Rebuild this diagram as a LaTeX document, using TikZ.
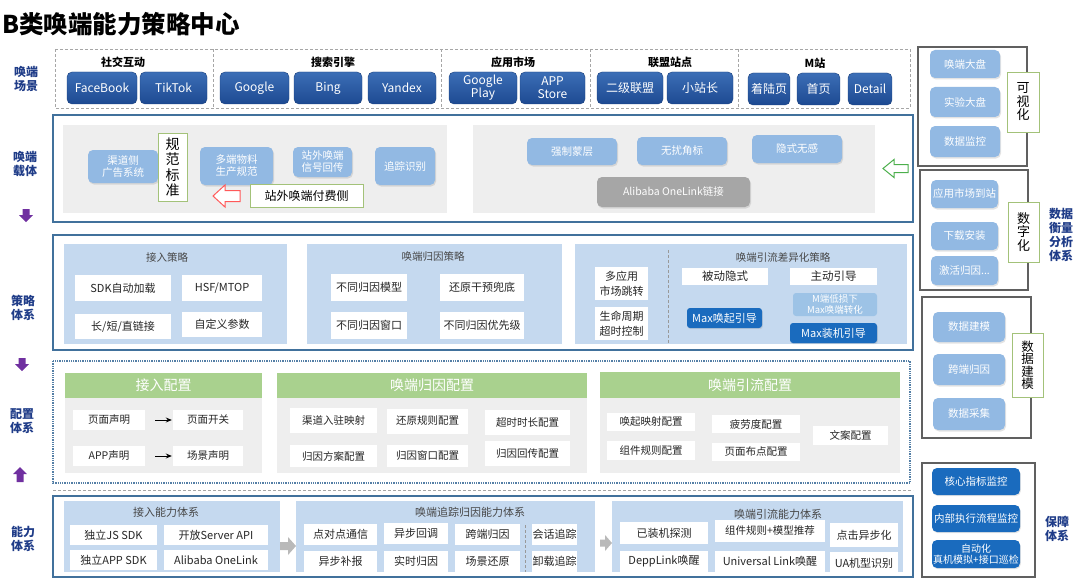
\documentclass[tikz,border=0pt]{standalone}
\usepackage{fontspec}
\setmainfont{Noto Sans CJK SC}
\usetikzlibrary{arrows.meta,shadows}

\definecolor{navy}{HTML}{1F3C88}
\definecolor{btntop}{HTML}{3C6EB6}
\definecolor{btnbot}{HTML}{1D4A92}
\definecolor{litblue}{HTML}{92B9E3}
\definecolor{panelgray}{HTML}{EEEEEE}
\definecolor{frameblue}{HTML}{41719C}
\definecolor{panelblue}{HTML}{C5D9EF}
\definecolor{deepblue}{HTML}{1A6BBE}
\definecolor{lowblue}{HTML}{9DC3E6}
\definecolor{hdrgreen}{HTML}{A9D18E}
\definecolor{tagline}{HTML}{A3C279}
\definecolor{arrowpurple}{HTML}{7030A0}
\definecolor{onegray}{HTML}{A6A6A6}
\definecolor{inktext}{HTML}{262626}

\tikzset{
  sz/.style 2 args={minimum width=#1,minimum height=#2},
  pagetitle/.style={font=\bfseries\fontsize{24.5}{26}\selectfont},
  sidelabel/.style={font=\bfseries\fontsize{12}{14}\selectfont,text=navy,align=center},
  groupname/.style={font=\bfseries\fontsize{11}{13}\selectfont},
  scenedash/.style={draw=gray!70,densely dashed,line width=0.6pt},
  splitdash/.style={draw=gray!80,densely dashed,line width=0.5pt},
  tierframe/.style={draw=frameblue,line width=1.6pt},
  tierdot/.style={draw=frameblue!90,densely dotted,line width=1.3pt},
  sidebox/.style={draw=gray!75!black,line width=1.1pt},
  scenebtn/.style={rounded corners=5pt,top color=btntop,bottom color=btnbot,
    draw=btnbot!85!black,line width=0.4pt,text=white,
    font=\fontsize{12}{13}\selectfont,align=center,inner sep=0pt},
  carrieritem/.style={rounded corners=5pt,fill=litblue,text=white,
    font=\fontsize{10.5}{12}\selectfont,align=center,inner sep=0pt,
    drop shadow={opacity=0.22,shadow xshift=1pt,shadow yshift=-1.5pt}},
  onelinkbtn/.style={carrieritem,fill=onegray},
  tagbox/.style={draw=tagline,fill=white,line width=0.9pt,align=center,inner sep=0pt},
  plainitem/.style={fill=white,text=inktext,font=\fontsize{11}{13}\selectfont,
    align=center,inner sep=0pt},
  cfgitem/.style={plainitem,font=\fontsize{10.5}{12}\selectfont},
  paneltitle/.style={text=inktext!85,font=\fontsize{10.5}{12}\selectfont},
  maxbtn/.style={rounded corners=3pt,fill=deepblue,text=white,
    font=\fontsize{11}{12}\selectfont,inner sep=0pt,
    drop shadow={opacity=0.2,shadow xshift=0.8pt,shadow yshift=-1.2pt}},
  lowloss/.style={rounded corners=3pt,fill=lowblue,text=white,
    font=\fontsize{9.5}{10.5}\selectfont,align=center,inner sep=0pt},
  cfgheader/.style={fill=hdrgreen,text=white,font=\fontsize{14}{15}\selectfont,inner sep=0pt},
  guardbtn/.style={rounded corners=5pt,fill=deepblue,text=white,
    font=\fontsize{10.5}{11.5}\selectfont,align=center,inner sep=0pt,
    drop shadow={opacity=0.2,shadow xshift=0.8pt,shadow yshift=-1.2pt}},
  flow/.style={-{Stealth[length=6pt,width=5pt]},line width=1pt,shorten <=10pt,shorten >=1pt}
}

\begin{document}
\begin{tikzpicture}[x=1pt,y=-1pt]
\useasboundingbox (0,0) rectangle (1080,578);

\node[pagetitle] (title) at (121,24) {B类唤端能力策略中心};

% side labels and tier arrows
\node[sidelabel] (lblscene) at (26,79) {唤端\\场景};
\node[sidelabel] (lblcarrier) at (25,164) {唤端\\载体};
\node[sidelabel] (lblstrategy) at (23,308) {策略\\体系};
\node[sidelabel] (lblconfig) at (22,421) {配置\\体系};
\node[sidelabel] (lblability) at (23,539) {能力\\体系};
\node[sidelabel] (lbldata) at (1061,235) {数据\\衡量\\分析\\体系};
\node[sidelabel] (lblguard) at (1057,529) {保障\\体系};
\fill[arrowpurple] (22.5,209) -- (29.5,209) -- (29.5,215) -- (33,215) -- (26,222) -- (19,215) -- (22.5,215) -- cycle;
\fill[arrowpurple] (18.5,358) -- (25.5,358) -- (25.5,364) -- (29,364) -- (22,371) -- (15,364) -- (18.5,364) -- cycle;
\fill[arrowpurple] (20,467) -- (27,474) -- (23.5,474) -- (23.5,482) -- (16.5,482) -- (16.5,474) -- (13,474) -- cycle;

% tier 1: scenes
\draw[scenedash] (55,49) rectangle (910,108);
\foreach \x in {213,441,590,738}
  \draw[scenedash] (\x,49) -- (\x,108);
\node[groupname] (gsocial) at (123,62) {社交互动};
\node[groupname] (gsearch) at (333,62) {搜索引擎};
\node[groupname] (gmarket) at (513,62) {应用市场};
\node[groupname] (gunion) at (670,62) {联盟站点};
\node[groupname] (gmsite) at (815,63) {M站};
\node[scenebtn,sz={70}{32}] (facebook) at (102,88) {FaceBook};
\node[scenebtn,sz={67}{32}] (tiktok) at (173.5,88) {TikTok};
\node[scenebtn,sz={69}{32}] (google) at (254.5,88) {Google};
\node[scenebtn,sz={68}{32}] (bing) at (328,88) {Bing};
\node[scenebtn,sz={68}{32}] (yandex) at (402,88) {Yandex};
\node[scenebtn,sz={68}{32}] (gplay) at (483,88) {Google\\Play};
\node[scenebtn,sz={65}{32}] (appstore) at (552.5,88) {APP\\Store};
\node[scenebtn,sz={66}{32}] (union2) at (630,88) {二级联盟};
\node[scenebtn,sz={66}{32}] (webmaster) at (700,88) {小站长};
\node[scenebtn,sz={42}{32}] (landing) at (769,89) {着陆页};
\node[scenebtn,sz={43}{32}] (homepage) at (818.5,89) {首页};
\node[scenebtn,sz={44}{32}] (detail) at (870,89) {Detail};

% tier 2: carriers
\draw[tierframe] (53,115) rectangle (913,222);
\fill[panelgray] (63,125) rectangle (447,213);
\fill[panelgray] (473,125) rectangle (875,213);
\node[carrieritem,sz={70}{33}] (adsys) at (123,166.5) {渠道侧\\广告系统};
\node[carrieritem,sz={73}{38}] (material) at (236.5,166) {多端物料\\生产规范};
\node[carrieritem,sz={59}{30}] (signal) at (322.5,162) {站外唤端\\信号回传};
\node[carrieritem,sz={60}{38}] (tracking) at (405,166) {追踪识别};
\node[tagbox,sz={29}{68},font=\fontsize{14}{15.5}\selectfont] (norm) at (172.5,167) {规\\范\\标\\准};
\node[tagbox,sz={113}{23},font=\fontsize{12}{13}\selectfont] (paidside) at (306.5,195.5) {站外唤端付费侧};
\draw[draw=red!65,fill=white,line width=1pt] (213,196) -- (225,185) -- (225,190.5) -- (240,190.5)
  -- (240,201.5) -- (225,201.5) -- (225,207) -- cycle;
\node[carrieritem,sz={90}{27}] (overlay) at (572,151.5) {强制蒙层};
\node[carrieritem,sz={90}{28}] (cornermark) at (682,151) {无扰角标};
\node[carrieritem,sz={90}{28}] (silent) at (797,149) {隐式无感};
\node[onelinkbtn,sz={153}{30}] (onelink) at (673.5,192) {Alibaba OneLink链接};
\draw[draw=green!55!black!70,line width=1pt] (883,168.5) -- (894,159.5) -- (894,164.5) -- (908,164.5)
  -- (908,172.5) -- (894,172.5) -- (894,177.5) -- cycle;

% tier 3: strategies
\draw[tierframe] (53,235) rectangle (913,350);
\fill[panelblue] (64,244) rectangle (287,344);
\fill[panelblue] (307,244) rectangle (562,344);
\fill[panelblue] (575,244) rectangle (907,344);
\node[paneltitle] (accesstitle) at (167,257) {接入策略};
\node[plainitem,sz={96}{26}] (sdkload) at (123,288) {SDK自动加载};
\node[plainitem,sz={80}{26}] (hsf) at (222,288) {HSF/MTOP};
\node[plainitem,sz={96}{25}] (links) at (123,326.5) {长/短/直链接};
\node[plainitem,sz={80}{25}] (params) at (222,324.5) {自定义参数};
\node[paneltitle] (attrtitle) at (433,257) {唤端归因策略};
\node[plainitem,sz={76}{27}] (attrmodel) at (369,287.5) {不同归因模型};
\node[plainitem,sz={84}{27}] (fallback) at (482,287.5) {还原干预兜底};
\node[plainitem,sz={76}{27}] (attrwin) at (369,325.5) {不同归因窗口};
\node[plainitem,sz={84}{27}] (attrprio) at (482,325.5) {不同归因优先级};
\node[plainitem,sz={53}{33},font=\fontsize{11}{15}\selectfont] (multimkt) at (621.5,283.5) {多应用\\市场跳转};
\node[plainitem,sz={53}{33},font=\fontsize{11}{15}\selectfont] (lifecycle) at (621.5,323.5) {生命周期\\超时控制};
\draw[splitdash] (668,250) -- (668,344);
\node[paneltitle] (difftitle) at (783,258) {唤端引流差异化策略};
\node[plainitem,sz={86}{17},font=\fontsize{11.5}{13}\selectfont] (passive) at (725,276.5) {被动隐式};
\node[plainitem,sz={87}{17},font=\fontsize{11.5}{13}\selectfont] (active) at (833.5,276.5) {主动引导};
\node[lowloss,sz={84}{23}] (lowlossm) at (835,304.5) {M端低损下\\Max唤端转化};
\node[maxbtn,sz={75}{20}] (maxwake) at (724.5,318) {Max唤起引导};
\node[maxbtn,sz={87}{20}] (maxinstall) at (833.5,333) {Max装机引导};

% tier 4: configuration
\draw[tierdot] (53,361) rectangle (910,483);
\fill[panelgray] (65,373) rectangle (262,473);
\fill[panelgray] (277,373) rectangle (587,473);
\fill[panelgray] (600,372) rectangle (900,473);
\node[cfgheader,sz={197}{25}] (hdraccess) at (163.5,385.5) {接入配置};
\node[cfgheader,sz={310}{25}] (hdrattr) at (432,385.5) {唤端归因配置};
\node[cfgheader,sz={300}{26}] (hdrflow) at (750,385) {唤端引流配置};
\node[cfgitem,sz={72}{20}] (pagedecl) at (109,420) {页面声明};
\node[cfgitem,sz={70}{20}] (pageswitch) at (208,420) {页面开关};
\node[cfgitem,sz={72}{20}] (appdecl) at (109,456) {APP声明};
\node[cfgitem,sz={70}{20}] (scenedecl) at (208,456) {场景声明};
\draw[flow] (pagedecl) -- (pageswitch);
\draw[flow] (appdecl) -- (scenedecl);
\node[cfgitem,sz={87}{25}] (chanmap) at (333.5,420.5) {渠道入驻映射};
\node[cfgitem,sz={81}{25}] (restorecfg) at (427.5,421) {还原规则配置};
\node[cfgitem,sz={85}{25}] (timeoutcfg) at (527.5,422.5) {超时时长配置};
\node[cfgitem,sz={87}{22}] (schemecfg) at (333.5,456) {归因方案配置};
\node[cfgitem,sz={81}{22}] (wincfg) at (427.5,455.5) {归因窗口配置};
\node[cfgitem,sz={85}{25}] (backcfg) at (527.5,453.5) {归因回传配置};
\node[cfgitem,sz={88}{18}] (wakemap) at (651,422) {唤起映射配置};
\node[cfgitem,sz={88}{18}] (fatigue) at (756,424) {疲劳度配置};
\node[cfgitem,sz={75}{19}] (copycfg) at (850.5,435.5) {文案配置};
\node[cfgitem,sz={88}{19}] (widgetcfg) at (651,450.5) {组件规则配置};
\node[cfgitem,sz={88}{18}] (layoutcfg) at (756,452) {页面布点配置};

\draw[scenedash] (53,490) -- (913,490);

% tier 5: abilities
\draw[tierframe] (53,496) rectangle (913,577);
\fill[panelblue] (64,501) rectangle (280,572);
\fill[panelblue] (296,501) rectangle (595,572);
\fill[panelblue] (612,501) rectangle (903,572);
\fill[gray!55] (280,542) -- (288,542) -- (288,537) -- (296,546) -- (288,555) -- (288,550) -- (280,550) -- cycle;
\fill[gray!55] (600,539.5) -- (605,539.5) -- (605,535) -- (612,543) -- (605,551) -- (605,546.5) -- (600,546.5) -- cycle;
\node[paneltitle,font=\fontsize{11}{12}\selectfont] (acctitle) at (166,512) {接入能力体系};
\node[plainitem,sz={87}{20}] (jssdk) at (113.5,535) {独立JS SDK};
\node[plainitem,sz={104}{20}] (serverapi) at (216,535) {开放Server API};
\node[plainitem,sz={87}{20}] (appsdk) at (113.5,560) {独立APP SDK};
\node[plainitem,sz={104}{20}] (onelinkapi) at (216,560) {Alibaba OneLink};
\node[paneltitle,font=\fontsize{11}{12}\selectfont] (tracetitle) at (470,512) {唤端追踪归因能力体系};
\node[plainitem,sz={73}{21}] (p2p) at (340.5,534.5) {点对点通信};
\node[plainitem,sz={64}{21}] (asynccb) at (416,533) {异步回调};
\node[plainitem,sz={65}{21}] (crossattr) at (487.5,534) {跨端归因};
\node[plainitem,sz={45}{21}] (session) at (554.5,534) {会话追踪};
\node[plainitem,sz={73}{21}] (resend) at (340.5,561) {异步补报};
\node[plainitem,sz={64}{21}] (realtime) at (416,561) {实时归因};
\node[plainitem,sz={65}{21}] (restore) at (487.5,561) {场景还原};
\node[plainitem,sz={45}{21}] (uninstall) at (554.5,561) {卸载追踪};
\draw[splitdash] (525,525) -- (525,572);
\node[paneltitle,font=\fontsize{11}{12}\selectfont] (guidetitle) at (778,514) {唤端引流能力体系};
\node[plainitem,sz={88}{22}] (installed) at (664,533) {已装机探测};
\node[plainitem,sz={110}{22},font=\fontsize{10.5}{12}\selectfont] (widgetrec) at (770,531) {组件规则+模型推荐};
\node[plainitem,sz={68}{24}] (clickasync) at (864,535) {点击异步化};
\node[plainitem,sz={88}{22}] (deeplink) at (664,561.5) {DeppLink唤醒};
\node[plainitem,sz={110}{22}] (universal) at (770,561.5) {Universal Link唤醒};
\node[plainitem,sz={68}{22}] (uamodel) at (864,563) {UA机型识别};

% right column
\draw[sidebox] (918,47) rectangle (1027,166);
\node[carrieritem,sz={70}{28}] (wakeboard) at (965,64) {唤端大盘};
\node[carrieritem,sz={70}{30}] (expboard) at (965,102) {实验大盘};
\node[carrieritem,sz={70}{31}] (datamon) at (965,141.5) {数据监控};
\node[tagbox,sz={32}{60},font=\fontsize{13}{13.5}\selectfont] (visual) at (1023,102) {可\\视\\化};

\draw[sidebox] (920,170) rectangle (1028,290);
\node[carrieritem,sz={67}{28}] (mktarrive) at (964.5,194) {应用市场到站};
\node[carrieritem,sz={67}{28}] (download) at (964.5,236) {下载安装};
\node[carrieritem,sz={67}{29}] (activate) at (964.5,270.5) {激活归因...};
\node[tagbox,sz={31}{60},font=\fontsize{13}{13.5}\selectfont] (digital) at (1023.5,232) {数\\字\\化};

\draw[sidebox] (922,297) rectangle (1031,438);
\node[carrieritem,sz={72}{30}] (datamodel) at (969,327) {数据建模};
\node[carrieritem,sz={72}{31}] (crossend) at (969,369.5) {跨端归因};
\node[carrieritem,sz={72}{32}] (collect) at (969,414) {数据采集};
\node[tagbox,sz={31}{64},font=\fontsize{12.5}{12.5}\selectfont] (modeling) at (1027.5,365) {数\\据\\建\\模};

\draw[sidebox] (922,463) rectangle (1035,577);
\node[guardbtn,sz={88}{27}] (coremon) at (976,481.5) {核心指标监控};
\node[guardbtn,sz={88}{27}] (flowmon) at (976,518.5) {内部执行流程监控};
\node[guardbtn,sz={88}{28},font=\fontsize{10}{11}\selectfont] (autotest) at (976,554) {自动化\\真机模拟+接口巡检};
\end{tikzpicture}
\end{document}
